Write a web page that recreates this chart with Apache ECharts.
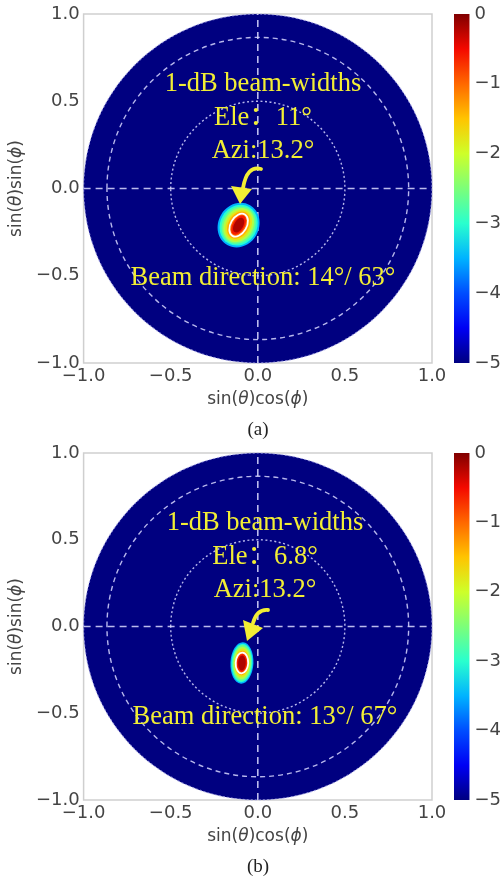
<!DOCTYPE html>
<html>
<head>
<meta charset="utf-8">
<script src="https://cdn.jsdelivr.net/npm/echarts@6/dist/echarts.min.js"></script>
<style>
  html, body { margin: 0; padding: 0; background: #fff; }
  #chart { width: 504px; height: 880px; }
</style>
</head>
<body>
<div id="chart"></div>
<script>
// ---- data ---------------------------------------------------------------
// colour-bar range (dB) and its tick labels
const dbRange = [-5, 0];
const colorbarTicks = [0, -1, -2, -3, -4, -5];

// reference circles in direction-cosine space (30° and 60° off boresight)
const guideRadii = [0.5, 0.866];

// beam contour levels (dB) shared by both panels; -1 dB is outlined in white
const levelsDb = [-3.5, -3.0, -2.6, -2.2, -1.8, -1.4, -1.0, -0.6, -0.2];

// panel (a): beam centre, contour semi-axes (minor / major), tilt in degrees
const beamCenterA = [-0.11, -0.21];
const semiMinorA = [0.117, 0.106, 0.094, 0.083, 0.071, 0.060, 0.046, 0.034, 0.026];
const semiMajorA = [0.131, 0.120, 0.111, 0.103, 0.094, 0.083, 0.071, 0.060, 0.046];
const tiltA = 30;
const labelsA = ['1-dB beam-widths', 'Ele：11°', 'Azi:13.2°', 'Beam direction: 14°/ 63°'];

// panel (b)
const beamCenterB = [-0.091, -0.21];
const semiMinorB = [0.066, 0.060, 0.054, 0.049, 0.043, 0.039, 0.036, 0.029, 0.022];
const semiMajorB = [0.120, 0.111, 0.103, 0.094, 0.083, 0.071, 0.060, 0.051, 0.043];
const tiltB = 3;
const labelsB = ['1-dB beam-widths', 'Ele：6.8°', 'Azi:13.2°', 'Beam direction: 13°/ 67°'];

// jet colour map, equally spaced samples
const jetColors = ['#000080', '#0000f4', '#004dff', '#00b3ff', '#29ffce', '#7cff79',
                   '#ceff29', '#ffc400', '#ff6800', '#f40900', '#800000'];

// ---- helpers --------------------------------------------------------------
const SANS = 'DejaVu Sans';
const SERIF = '"Liberation Serif", "Times New Roman", "Noto Sans CJK SC", serif';
const TICK_COLOR = '#444';
const YELLOW = '#f2ee34';
const TICK_SIZE = 18;

function fmtTick(v) {
  return (v < 0 ? '\u2212' : '') + Math.abs(v).toFixed(1);
}
function fmtBar(v) {
  return v < 0 ? '\u2212' + Math.abs(v) : String(v);
}
const axisNameRich = {
  r: { fontFamily: SANS, fontSize: 17, color: TICK_COLOR },
  i: { fontFamily: SANS, fontSize: 17, color: TICK_COLOR, fontStyle: 'italic' }
};

const grids = [], xAxes = [], yAxes = [], series = [], mapped = [], graphics = [];

function ellipseItem(api, stroke) {
  const c = api.coord([api.value(0), api.value(1)]);
  const s = api.size([api.value(3), api.value(4)]);
  return {
    type: 'ellipse',
    x: c[0], y: c[1],
    rotation: -api.value(5) * Math.PI / 180,
    shape: { cx: 0, cy: 0, rx: s[0], ry: s[1] },
    style: stroke
      ? { fill: null, stroke: '#ffffff', lineWidth: 1.8 }
      : { fill: api.visual('color') }
  };
}

function addPanel(top, height, center, minor, major, tilt, labels, tag, arrow) {
  const g = grids.length;
  // main direction-cosine plot
  grids.push({ left: 82, top: top, width: 350, height: height, show: true,
               borderColor: '#cfcfcf', borderWidth: 1.5, backgroundColor: '#fff' });
  // colour bar
  grids.push({ left: 454, top: top, width: 17, height: height });

  xAxes.push({
    gridIndex: g, type: 'value', min: -1, max: 1, interval: 0.5,
    axisLine: { show: false }, axisTick: { show: false }, splitLine: { show: false },
    axisLabel: { formatter: fmtTick, fontFamily: SANS, fontSize: TICK_SIZE, color: TICK_COLOR,
                 margin: 4, showMinLabel: true, showMaxLabel: true },
    name: '{r|sin(}{i|θ}{r|)cos(}{i|ϕ}{r|)}', nameLocation: 'middle', nameGap: 28,
    nameTextStyle: { rich: axisNameRich }
  });
  yAxes.push({
    gridIndex: g, type: 'value', min: -1, max: 1, interval: 0.5,
    axisLine: { show: false }, axisTick: { show: false }, splitLine: { show: false },
    axisLabel: { formatter: fmtTick, fontFamily: SANS, fontSize: TICK_SIZE, color: TICK_COLOR,
                 margin: 4, showMinLabel: true, showMaxLabel: true },
    name: '{r|sin(}{i|θ}{r|)sin(}{i|ϕ}{r|)}', nameLocation: 'middle', nameGap: 49,
    nameTextStyle: { rich: axisNameRich }
  });
  xAxes.push({ gridIndex: g + 1, type: 'value', min: 0, max: 1, show: false });
  yAxes.push({
    gridIndex: g + 1, type: 'value', position: 'right',
    min: dbRange[0], max: dbRange[1], interval: 1,
    axisLine: { show: false }, axisTick: { show: false }, splitLine: { show: false },
    axisLabel: { formatter: fmtBar, fontFamily: SANS, fontSize: TICK_SIZE, color: TICK_COLOR, margin: 5,
                 showMinLabel: true, showMaxLabel: true }
  });

  // visible hemisphere: unit disk at the colour-bar floor
  mapped.push(series.length);
  series.push({
    type: 'custom', xAxisIndex: g, yAxisIndex: g, silent: true,
    data: [[0, 0, dbRange[0], 1]],
    renderItem(params, api) {
      const c = api.coord([api.value(0), api.value(1)]);
      const s = api.size([api.value(3), api.value(3)]);
      return { type: 'ellipse', shape: { cx: c[0], cy: c[1], rx: s[0], ry: s[1] },
               style: { fill: api.visual('color'), stroke: 'rgba(175,175,240,0.7)',
                        lineWidth: 1.2, lineDash: [2, 2] } };
    }
  });

  // dashed axes through the origin
  series.push({
    type: 'custom', xAxisIndex: g, yAxisIndex: g, silent: true,
    data: [[0, 0]],
    renderItem(params, api) {
      const st = { stroke: 'rgba(220,220,255,0.85)', lineWidth: 1.6, lineDash: [7, 5] };
      const l = api.coord([-1, 0]), r = api.coord([1, 0]);
      const b = api.coord([0, -1]), t = api.coord([0, 1]);
      return { type: 'group', children: [
        { type: 'line', shape: { x1: l[0], y1: l[1], x2: r[0], y2: r[1] }, style: st },
        { type: 'line', shape: { x1: b[0], y1: b[1], x2: t[0], y2: t[1] }, style: st }
      ] };
    }
  });

  // reference circles
  series.push({
    type: 'custom', xAxisIndex: g, yAxisIndex: g, silent: true,
    data: guideRadii.map(r => [r]),
    renderItem(params, api) {
      const c = api.coord([0, 0]);
      const s = api.size([api.value(0), api.value(0)]);
      const dash = params.dataIndex === 0 ? [2, 2.5] : [5, 4];
      return { type: 'ellipse', shape: { cx: c[0], cy: c[1], rx: s[0], ry: s[1] },
               style: { fill: null, stroke: 'rgba(215,215,255,0.85)', lineWidth: 1.4, lineDash: dash } };
    }
  });

  // beam footprint, filled contour bands from the outside in
  const bands = levelsDb.map((v, i) => [center[0], center[1], v, minor[i], major[i], tilt]);
  mapped.push(series.length);
  series.push({
    type: 'custom', xAxisIndex: g, yAxisIndex: g, silent: true,
    data: bands,
    renderItem(params, api) { return ellipseItem(api, false); }
  });
  // -1 dB contour
  series.push({
    type: 'custom', xAxisIndex: g, yAxisIndex: g, silent: true,
    data: bands.filter(d => d[2] === -1),
    renderItem(params, api) { return ellipseItem(api, true); }
  });

  // colour bar
  series.push({
    type: 'custom', xAxisIndex: g + 1, yAxisIndex: g + 1, silent: true,
    data: [[0, dbRange[0], 1, dbRange[1]]],
    renderItem(params, api) {
      const p0 = api.coord([api.value(0), api.value(3)]);
      const p1 = api.coord([api.value(2), api.value(1)]);
      const stops = jetColors.map((c, i) => ({ offset: i / (jetColors.length - 1), color: c }));
      return { type: 'rect', shape: { x: p0[0], y: p0[1], width: p1[0] - p0[0], height: p1[1] - p0[1] },
               style: { fill: new echarts.graphic.LinearGradient(0, 1, 0, 0, stops) } };
    }
  });

  // annotations
  const tx = arrow.textX;
  const ys = [84, 118, 151, 278];
  labels.forEach((t, i) => {
    graphics.push({
      type: 'text', z: 100, silent: true,
      style: { text: t, x: tx, y: top + ys[i] - 14, align: 'center', verticalAlign: 'middle',
               fill: YELLOW, font: '26.5px ' + SERIF }
    });
  });
  graphics.push({
    type: 'bezierCurve', z: 100, silent: true,
    shape: arrow.curve,
    style: { stroke: YELLOW, lineWidth: 3.8, fill: null, lineCap: 'round' }
  });
  graphics.push({
    type: 'polygon', z: 100, silent: true,
    shape: { points: arrow.head },
    style: { fill: YELLOW }
  });
  graphics.push({
    type: 'text', silent: true,
    style: { text: tag, x: 258, y: top + height + 67, align: 'center', verticalAlign: 'middle',
             fill: '#222', font: '19px ' + SERIF }
  });
}

addPanel(14, 349, beamCenterA, semiMinorA, semiMajorA, tiltA, labelsA, '(a)', {
  textX: 263,
  curve: { x1: 261, y1: 169, cpx1: 247, cpy1: 165, x2: 243, y2: 188 },
  head: [[231, 186], [252, 189], [240, 204]]
});
addPanel(453, 347, beamCenterB, semiMinorB, semiMajorB, tiltB, labelsB, '(b)', {
  textX: 265,
  curve: { x1: 268, y1: 610, cpx1: 257, cpy1: 609, x2: 253, y2: 623 },
  head: [[243, 620], [263, 628], [247, 641]]
});

const chart = echarts.init(document.getElementById('chart'), null, { renderer: 'canvas' });
chart.setOption({
  animation: false,
  backgroundColor: '#ffffff',
  grid: grids,
  xAxis: xAxes,
  yAxis: yAxes,
  visualMap: {
    type: 'continuous', show: false, min: dbRange[0], max: dbRange[1],
    dimension: 2, seriesIndex: mapped, inRange: { color: jetColors }
  },
  series: series,
  graphic: graphics
});
</script>
</body>
</html>
